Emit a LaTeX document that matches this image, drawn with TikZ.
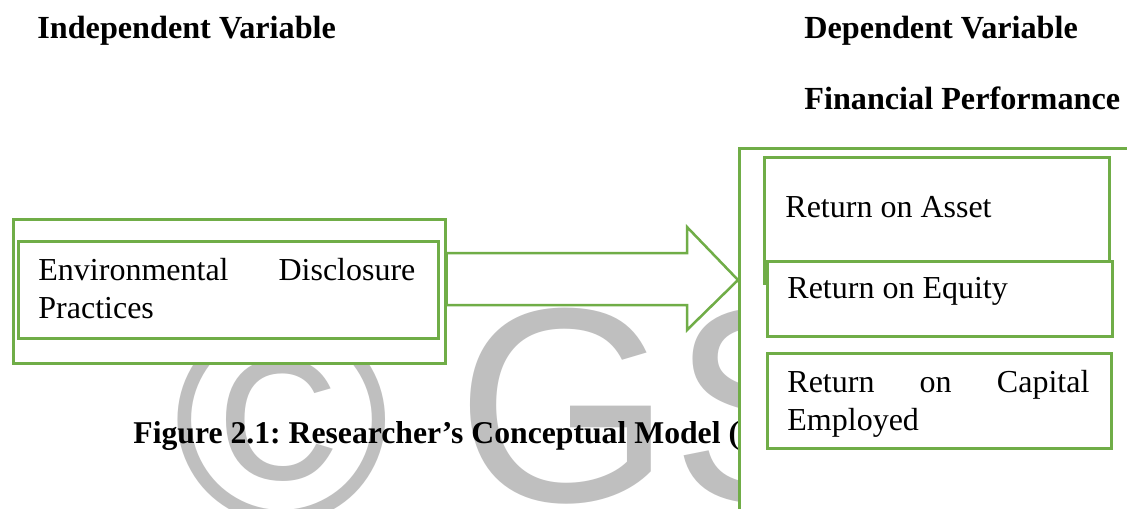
\documentclass[tikz,border=0pt]{standalone}
\usepackage{fontspec}
\setmainfont{Liberation Serif}
\newfontfamily\wmfont{Liberation Sans}
\definecolor{gr}{HTML}{70AD47}
\definecolor{wm}{HTML}{BFBFBF}
\frenchspacing
\begin{document}
\begin{tikzpicture}[x=0.5pt,y=-0.5pt,
  gbox/.style={draw=gr, line width=1.25pt, fill=white, inner sep=0pt, anchor=north west},
  txt/.style={font=\fontsize{16}{19}\selectfont, inner sep=0pt, anchor=base west},
  head/.style={font=\fontsize{16.1}{19}\selectfont\bfseries, inner sep=0pt, anchor=base west},
  wmark/.style={text=wm, inner sep=0pt, anchor=base west}]
\useasboundingbox (0,0) rectangle (1127,508);
\clip (0,0) rectangle (1127,508);
\fill[white] (0,0) rectangle (1127,508);
% watermark
\node[wmark, font=\wmfont\fontsize{147}{150}\selectfont] (wmc) at (173,521) {©};
\node[wmark, font=\wmfont\fontsize{138.5}{140}\selectfont] (wmgs) at (456,501) {GS};
% headings
\node[head] (indep) at (37,39) {Independent Variable};
\node[head] (dep) at (804,39) {Dependent Variable};
\node[head] (fin) at (804,109) {Financial Performance};
% caption
\node[head, font=\fontsize{15.85}{19}\selectfont\bfseries] (cap) at (133,443) {Figure 2.1: Researcher’s Conceptual Model (};
% left boxes
\node[gbox, minimum width=216pt, minimum height=72pt] (louter) at (12,218) {};
\node[gbox, minimum width=210pt, minimum height=48.5pt] (linner) at (17,240) {};
\node[txt, text width=188.5pt, align=left] (edp) at (38,280) {Environmental\hfill Disclosure\\Practices};
% right boxes
\node[gbox, minimum width=200pt, minimum height=195pt] (router) at (738,147) {};
\coordinate (tip) at (738,280);
\draw[draw=gr, line width=1.25pt, fill=white, line join=miter]
  (louter.east |- 0,253) -- (687,253) -- (687,227) -- (tip) -- (687,330) -- (687,305) -- (louter.east |- 0,305) -- cycle;
\node[gbox, minimum width=172.5pt, minimum height=63pt] (roa) at (763,156) {};
\node[gbox, minimum width=172.5pt, minimum height=37.5pt] (roe) at (766,260) {};
\node[gbox, minimum width=172pt, minimum height=47.5pt] (roce) at (766,352) {};
\node[txt] (troa) at (785,217) {Return on Asset};
\node[txt] (troe) at (787,298) {Return on Equity};
\node[txt, text width=151pt, align=left] (troce) at (787,392) {Return\hfill on\hfill Capital\\Employed};
\end{tikzpicture}
\end{document}
